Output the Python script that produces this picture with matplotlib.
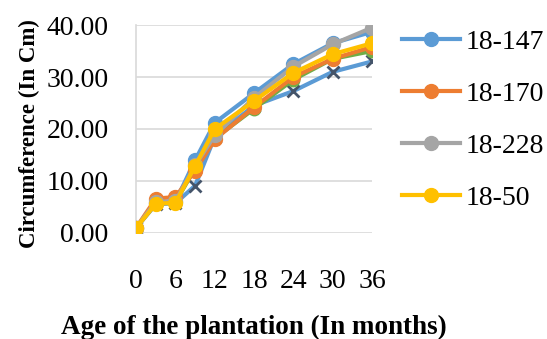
import numpy as np
import matplotlib.pyplot as plt

plt.rcParams['font.family'] = ['Liberation Serif', 'DejaVu Serif']

# age of plantation (months)
age = [0, 3, 6, 9, 12, 18, 24, 30, 36]

# circumference (cm) per clone
c_18_147 = [1.0, 5.8, 6.0, 14.0, 21.2, 26.9, 32.5, 36.5, 38.7]
c_18_170 = [1.0, 6.6, 6.9, 12.0, 18.0, 24.2, 30.0, 33.5, 35.8]
c_18_228 = [1.0, 6.0, 6.1, 13.0, 18.8, 26.0, 32.0, 36.3, 39.5]
c_18_50 = [1.0, 5.6, 5.8, 12.9, 20.0, 25.4, 30.8, 34.4, 36.5]
c_other_a = [1.0, 5.5, 5.7, 9.1, 18.5, 24.5, 27.3, 31.0, 33.0]
c_other_b = [1.0, 5.7, 5.9, 12.5, 18.2, 23.9, 29.5, 33.5, 35.0]

fs = 20

fig = plt.figure(figsize=(5.47, 3.39), dpi=100)
ax = fig.add_axes([0.249, 0.313, 0.431, 0.613])

# series not in the legend are drawn first so the named ones sit on top
ax.plot(age, c_other_a, color='#5B9BD5', lw=3, marker='x', ms=8, mew=2,
        mec='#44546A', zorder=2)
ax.plot(age, c_other_b, color='#70AD47', lw=3, marker='o', ms=9, zorder=2)

series = [('18-147', c_18_147, '#5B9BD5'),
          ('18-170', c_18_170, '#ED7D31'),
          ('18-228', c_18_228, '#A5A5A5'),
          ('18-50', c_18_50, '#FFC000')]
for name, vals, col in series:
    ax.plot(age, vals, color=col, lw=3, marker='o', ms=10, label=name, zorder=3)

ax.set_xlim(0, 36)
ax.set_ylim(0, 40)
ax.set_xticks([0, 6, 12, 18, 24, 30, 36])
ax.set_yticks(np.arange(0, 41, 10))
ax.set_yticklabels(['%.2f' % v for v in np.arange(0, 41, 10)])
ax.tick_params(axis='both', length=0, labelsize=fs)
ax.tick_params(axis='x', pad=26)
ax.tick_params(axis='y', pad=20)
ax.grid(axis='y', color='#D9D9D9', lw=1.2)
ax.set_axisbelow(True)
for s in ['top', 'right', 'bottom']:
    ax.spines[s].set_visible(False)
ax.spines['left'].set_color('#D9D9D9')
ax.spines['left'].set_linewidth(1.2)

ax.set_ylabel('Circumference (In Cm)', fontsize=16.5, fontweight='bold')
ax.yaxis.set_label_coords(-0.406, 0.48)
ax.set_xlabel('Age of the plantation (In months)', fontsize=19.5,
              fontweight='bold', labelpad=15)

ax.legend(loc='upper left', bbox_to_anchor=(1.127, 0.98), frameon=False,
          fontsize=fs, handlelength=2.1, labelspacing=0.96, handletextpad=0.2,
          borderaxespad=0, borderpad=0)

fig.savefig('out.png', dpi=100)
